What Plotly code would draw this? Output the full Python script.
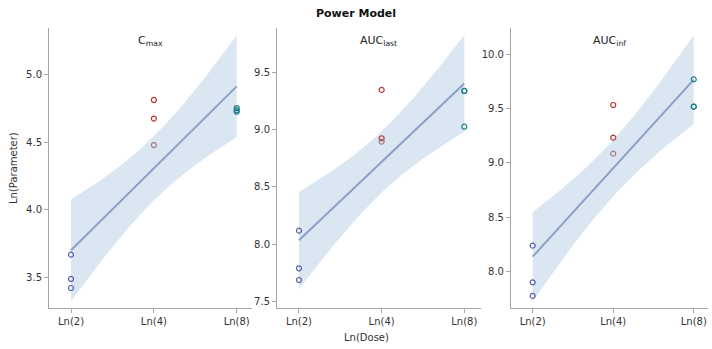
import numpy as np
import plotly.graph_objects as go

# Dose groups and per-subject doses (3 subjects per group)
dose_ticks = [2, 4, 8]
dose_tick_labels = ["Ln(2)", "Ln(4)", "Ln(8)"]
subject_dose = [2, 2, 2, 4, 4, 4, 8, 8, 8]

# Log-transformed PK parameters per subject
ln_cmax = [3.669, 3.489, 3.422, 4.815, 4.677, 4.481, 4.755, 4.740, 4.728]
ln_auc_last = [8.117, 7.787, 7.685, 9.349, 8.926, 8.896, 9.340, 9.340, 9.027]
ln_auc_inf = [8.238, 7.901, 7.776, 9.531, 9.231, 9.084, 9.767, 9.516, 9.516]

panel_titles = ["C<sub>max</sub>", "AUC<sub>last</sub>", "AUC<sub>inf</sub>"]

# Subject marker colours
subject_colors = ["#5560a8", "#5560a8", "#5a62a6",
                  "#b8342f", "#b8342f", "#a57884",
                  "#1f8084", "#1f8084", "#1f8084"]

# Layout of the three panels
x_domains = [[0.0, 0.308], [0.346, 0.6555], [0.701, 1.0]]
x_ranges = [[0.509, 2.207], [0.509, 2.219], [0.506, 2.202]]
y_ranges = [[3.274, 5.348], [7.440, 9.891], [7.665, 10.239]]
y_tickvals = [[3.5, 4.0, 4.5, 5.0], [7.5, 8.0, 8.5, 9.0, 9.5], [8.0, 8.5, 9.0, 9.5, 10.0]]

T_CRIT = 2.3646  # two-sided 95%, 7 degrees of freedom

BAND_COLOR = "rgba(200,216,236,0.65)"
LINE_COLOR = "#8aa0c6"
AXIS_COLOR = "#a6a6a6"
FONT = "DejaVu Sans"

x = np.log(np.array(subject_dose, dtype=float))
tick_x = np.log(np.array(dose_ticks, dtype=float))

fig = go.Figure()

for i, y_vals in enumerate([ln_cmax, ln_auc_last, ln_auc_inf]):
    y = np.array(y_vals)
    xa = "x" if i == 0 else f"x{i + 1}"
    ya = "y" if i == 0 else f"y{i + 1}"

    # Power model: ln(param) = a + b * ln(dose), with 95% CI of the mean
    b, a = np.polyfit(x, y, 1)
    n = len(x)
    resid = y - (a + b * x)
    s = np.sqrt(np.sum(resid ** 2) / (n - 2))
    sxx = np.sum((x - x.mean()) ** 2)
    xg = np.linspace(x.min(), x.max(), 60)
    fit = a + b * xg
    half = T_CRIT * s * np.sqrt(1.0 / n + (xg - x.mean()) ** 2 / sxx)

    fig.add_trace(go.Scatter(x=xg, y=fit - half, mode="lines", line=dict(width=0),
                             hoverinfo="skip", showlegend=False, xaxis=xa, yaxis=ya))
    fig.add_trace(go.Scatter(x=xg, y=fit + half, mode="lines", line=dict(width=0),
                             fill="tonexty", fillcolor=BAND_COLOR,
                             hoverinfo="skip", showlegend=False, xaxis=xa, yaxis=ya))
    fig.add_trace(go.Scatter(x=xg, y=fit, mode="lines",
                             line=dict(color=LINE_COLOR, width=2),
                             showlegend=False, xaxis=xa, yaxis=ya))
    fig.add_trace(go.Scatter(x=x, y=y, mode="markers",
                             marker=dict(symbol="circle-open", size=5,
                                         color=subject_colors, line=dict(width=1.2)),
                             showlegend=False, xaxis=xa, yaxis=ya, cliponaxis=False))

    axis_common = dict(showline=True, linecolor=AXIS_COLOR, linewidth=1,
                       ticks="outside", tickcolor=AXIS_COLOR, ticklen=4,
                       showgrid=False, zeroline=False,
                       tickfont=dict(family=FONT, size=10, color="#333333"))
    fig.layout[f"xaxis{'' if i == 0 else i + 1}"] = dict(
        domain=x_domains[i], range=x_ranges[i], anchor=ya,
        tickvals=list(tick_x), ticktext=dose_tick_labels, **axis_common)
    fig.layout[f"yaxis{'' if i == 0 else i + 1}"] = dict(
        domain=[0, 1], range=y_ranges[i], anchor=xa,
        tickvals=y_tickvals[i], tickformat=".1f", **axis_common)

    # Panel heading
    fig.add_annotation(text=panel_titles[i], xref=f"{xa} domain", yref="paper",
                       x=0.5, y=0.955, xanchor="center", yanchor="middle",
                       showarrow=False, font=dict(family=FONT, size=11, color="#222222"))

# Figure title and shared axis titles
fig.add_annotation(text="<b>Power Model</b>", xref="paper", yref="paper",
                   x=(356 - 49) / 659, y=1.0 + 14 / 280, xanchor="center", yanchor="middle",
                   showarrow=False, font=dict(family=FONT, size=11, color="#111111"))
fig.add_annotation(text="Ln(Dose)", xref="paper", yref="paper",
                   x=(366 - 49) / 659, y=-29 / 280, xanchor="center", yanchor="middle",
                   showarrow=False, font=dict(family=FONT, size=10, color="#333333"))
fig.add_annotation(text="Ln(Parameter)", xref="paper", yref="paper",
                   x=-(49 - 13) / 659, y=0.5, xanchor="center", yanchor="middle",
                   textangle=-90, showarrow=False,
                   font=dict(family=FONT, size=10, color="#333333"))

fig.update_layout(width=712, height=349,
                  margin=dict(l=49, r=4, t=28, b=41),
                  paper_bgcolor="white", plot_bgcolor="white")

fig.write_html("out.html")
